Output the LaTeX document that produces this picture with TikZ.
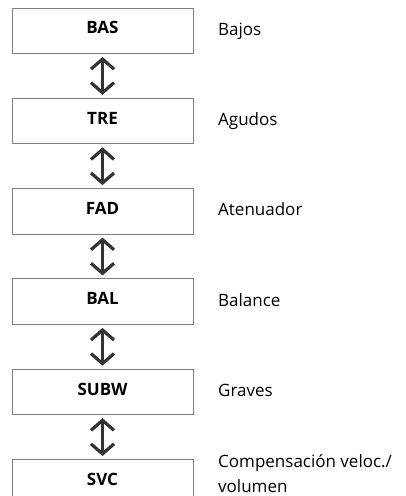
\documentclass[tikz,border=0pt]{standalone}
\usepackage{fontspec}
\setmainfont{Open Sans}
\usepackage{xcolor}
\usetikzlibrary{arrows.meta, positioning}

\definecolor{boxgray}{HTML}{7F7F7F}
\definecolor{arrowdark}{HTML}{333333}

\begin{document}
\begin{tikzpicture}[
    x=1pt, y=1pt,
    node distance=43.8pt and 24.5pt,
    menubox/.style={rectangle, draw=boxgray, line width=1pt, minimum width=181pt, minimum height=45.5pt, text depth=6pt, align=center, font=\fontsize{17}{20}\selectfont\bfseries},
    desc/.style={anchor=base west, inner sep=0pt, align=left, font=\fontsize{17}{25}\selectfont},
    updown/.style={{Straight Barb[length=10pt,width=23pt,line width=3.2pt]}-{Straight Barb[length=10pt,width=23pt,line width=3.2pt]}, line width=3.2pt, draw=arrowdark, shorten >=3pt, shorten <=3pt}
]
    \useasboundingbox (0,0) rectangle (406,-496);

    % Menu items
    \node[menubox] (bas) at (102.5,-30.75) {BAS};
    \node[menubox, below=of bas] (tre) {TRE};
    \node[menubox, below=of tre] (fad) {FAD};
    \node[menubox, below=of fad] (bal) {BAL};
    \node[menubox, below=of bal] (subw) {SUBW};
    \node[menubox, below=of subw] (svc) {SVC};

    % Descriptions
    \node[desc] (basdesc) at ([xshift=24.5pt, yshift=-4.5pt]bas.east) {Bajos};
    \node[desc] (tredesc) at ([xshift=24.5pt, yshift=-4.5pt]tre.east) {Agudos};
    \node[desc] (faddesc) at ([xshift=24.5pt, yshift=-4.5pt]fad.east) {Atenuador};
    \node[desc] (baldesc) at ([xshift=24.5pt, yshift=-4.5pt]bal.east) {Balance};
    \node[desc] (subwdesc) at ([xshift=24.5pt, yshift=-4.5pt]subw.east) {Graves};
    \node[desc] (svcdesc) at ([xshift=24.5pt, yshift=-10.5pt]svc.east) {Compensación veloc./\\volumen};

    % Arrows
    \draw[updown] (bas) -- (tre);
    \draw[updown] (tre) -- (fad);
    \draw[updown] (fad) -- (bal);
    \draw[updown] (bal) -- (subw);
    \draw[updown] (subw) -- (svc);
\end{tikzpicture}
\end{document}
